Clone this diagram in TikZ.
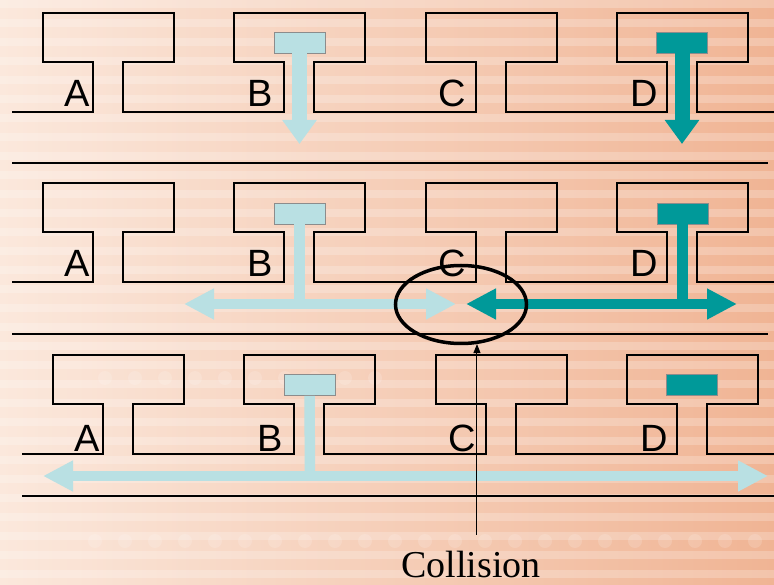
\documentclass[tikz,border=0pt]{standalone}
\usepackage{fontspec}
\setmainfont{Liberation Serif}
\newfontfamily\labelfont{Liberation Sans}
\usepackage{tikz}
\usetikzlibrary{arrows.meta, calc, shapes.geometric}

\definecolor{peachpale}{RGB}{251,232,220}
\definecolor{peachmid}{RGB}{245,200,175}
\definecolor{peachdeep}{RGB}{240,180,148}
\definecolor{senderblue}{RGB}{185,224,227}
\definecolor{senderteal}{RGB}{0,153,153}

\tikzset{
    wire/.style={line width=2pt, line join=miter},
    blueframe/.style={draw=black!45, line width=0.6pt, fill=senderblue, minimum width=51pt, minimum height=21pt, inner sep=0pt},
    tealframe/.style={blueframe, fill=senderteal},
    stationlabel/.style={font=\labelfont\fontsize{38}{38}\selectfont, inner sep=0pt, anchor=base},
    drop/.style={line width=15pt, -{Triangle[length=24pt,width=33pt]}},
    stem/.style={line width=10.5pt},
    spread/.style={line width=10.5pt, {Triangle[length=30pt,width=29pt]}-{Triangle[length=30pt,width=29pt]}}
}

\begin{document}
\begin{tikzpicture}[x=1pt, y=-1pt]
    \useasboundingbox (0,0) rectangle (774,585);
    \shade[left color=peachpale, middle color=peachmid, right color=peachdeep] (0,0) rectangle (774,585);
    \foreach \y in {0,19,...,580}
        \fill[white, opacity=0.22] (0,\y) rectangle (774,\y+8);
    \foreach \x in {95,125,...,770}
        \fill[white, opacity=0.15] (\x,541) circle (7);
    \foreach \x in {105,135,...,380}
        \fill[white, opacity=0.15] (\x,378) circle (7);

    \foreach \dx/\top/\start in {0/13/12, 0/183/12, 10/355/22}
        \draw[wire] (\start,\top+99)
            \foreach \left in {43,234,426,617} {
                -- (\left+\dx+50,\top+99) -- (\left+\dx+50,\top+49) -- (\left+\dx,\top+49)
                -- (\left+\dx,\top) -- (\left+\dx+131,\top) -- (\left+\dx+131,\top+49)
                -- (\left+\dx+80,\top+49) -- (\left+\dx+80,\top+99)
            } -- (774,\top+99);
    \draw[wire] (12,163) -- (768,163);
    \draw[wire] (12,334) -- (768,334);
    \draw[wire] (22,496) -- (774,496);

    \foreach \r/\dx/\base in {1/0/107, 2/0/277, 3/10/451}
        \foreach \s/\x in {A/77, B/260, C/452, D/644}
            \node[stationlabel] (\s\r) at (\x+\dx,\base) {\s};

    \node[blueframe] (sendB1) at (299.5,42.5) {};
    \node[tealframe] (sendD1) at (682,42.5) {};
    \coordinate (dropB1) at (299.5,144);
    \coordinate (dropD1) at (682,144);
    \draw[drop, senderblue] (sendB1.south) -- (dropB1);
    \draw[drop, senderteal] (sendD1.south) -- (dropD1);

    \node[blueframe] (sendB2) at (299.5,213.5) {};
    \node[tealframe] (sendD2) at (682.5,213.5) {};
    \coordinate (joinB2) at (299.5,304);
    \coordinate (leftB2) at (184,304);
    \coordinate (rightB2) at (456,304);
    \coordinate (joinD2) at (682.5,304);
    \coordinate (leftD2) at (466,304);
    \coordinate (rightD2) at (737,304);
    \draw[stem, senderblue] (sendB2.south) -- (joinB2);
    \draw[spread, senderblue] (leftB2) -- (rightB2);
    \draw[stem, senderteal] (sendD2.south) -- (joinD2);
    \draw[spread, senderteal] (leftD2) -- (rightD2);

    \node[blueframe] (sendB3) at (309.5,385) {};
    \node[tealframe] (sendD3) at (692,385) {};
    \coordinate (joinB3) at (310,476);
    \coordinate (leftB3) at (43,476);
    \coordinate (rightB3) at (768,476);
    \draw[stem, senderblue] (sendB3.south) -- (joinB3);
    \draw[spread, senderblue] (leftB3) -- (rightB3);

    \node[draw, ellipse, line width=3.5pt, minimum width=131pt, minimum height=78pt] (clash) at (461,304.5) {};
    \node[font=\fontsize{38}{38}\selectfont, inner sep=0pt, outer ysep=16pt, anchor=base] (clashtext) at (471,577) {Collision};
    \draw[line width=1pt, -{Triangle[length=9pt,width=7pt]}] (clashtext.north -| clash.-68) -- (clash.-68);
\end{tikzpicture}
\end{document}
